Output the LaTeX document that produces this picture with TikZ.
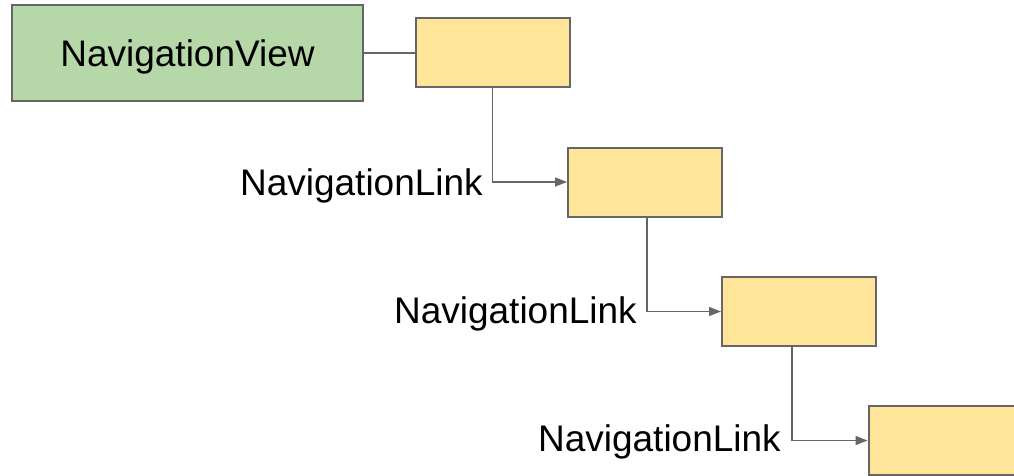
\documentclass[tikz,border=0pt]{standalone}
\usepackage{fontspec}
\setmainfont{Liberation Sans}
\usetikzlibrary{arrows.meta}
\definecolor{edgegray}{HTML}{666666}
\definecolor{viewgreen}{HTML}{B6D7A8}
\definecolor{pageyellow}{HTML}{FFE599}
\begin{document}
\begin{tikzpicture}[x=1pt,y=-1pt,
  every node/.style={font=\fontsize{37}{44}\selectfont},
  greenbox/.style={draw=edgegray,line width=2pt,fill=viewgreen,minimum width=351pt,minimum height=96pt,inner sep=0pt,text depth=0pt},
  pagebox/.style={draw=edgegray,line width=2pt,fill=pageyellow,minimum width=154pt,minimum height=69pt,inner sep=0pt},
  linklabel/.style={anchor=east,inner sep=0pt,text depth=0pt},
  conn/.style={draw=edgegray,line width=1.6pt},
  arr/.style={conn,-{Triangle[length=12pt,width=9pt]}}]
\useasboundingbox (0,0) rectangle (1014,476);
\node[greenbox] (nv) at (187.5,53) {NavigationView};
\node[pagebox] (b1) at (492.5,53) {};
\node[pagebox] (b2) at (645,182) {};
\node[pagebox] (b3) at (799,311.5) {};
\node[pagebox] (b4) at (945.5,440.5) {};
\node[linklabel] (l1) at (483,182) {NavigationLink};
\node[linklabel] (l2) at (637,310) {NavigationLink};
\node[linklabel] (l3) at (781,438) {NavigationLink};
\draw[conn] (nv.east) -- (b1.west);
\draw[arr] (b1.south) |- (b2.west);
\draw[arr] ([xshift=2pt]b2.south) |- (b3.west);
\draw[arr] ([xshift=-7pt]b3.south) |- (b4.west);
\end{tikzpicture}
\end{document}
